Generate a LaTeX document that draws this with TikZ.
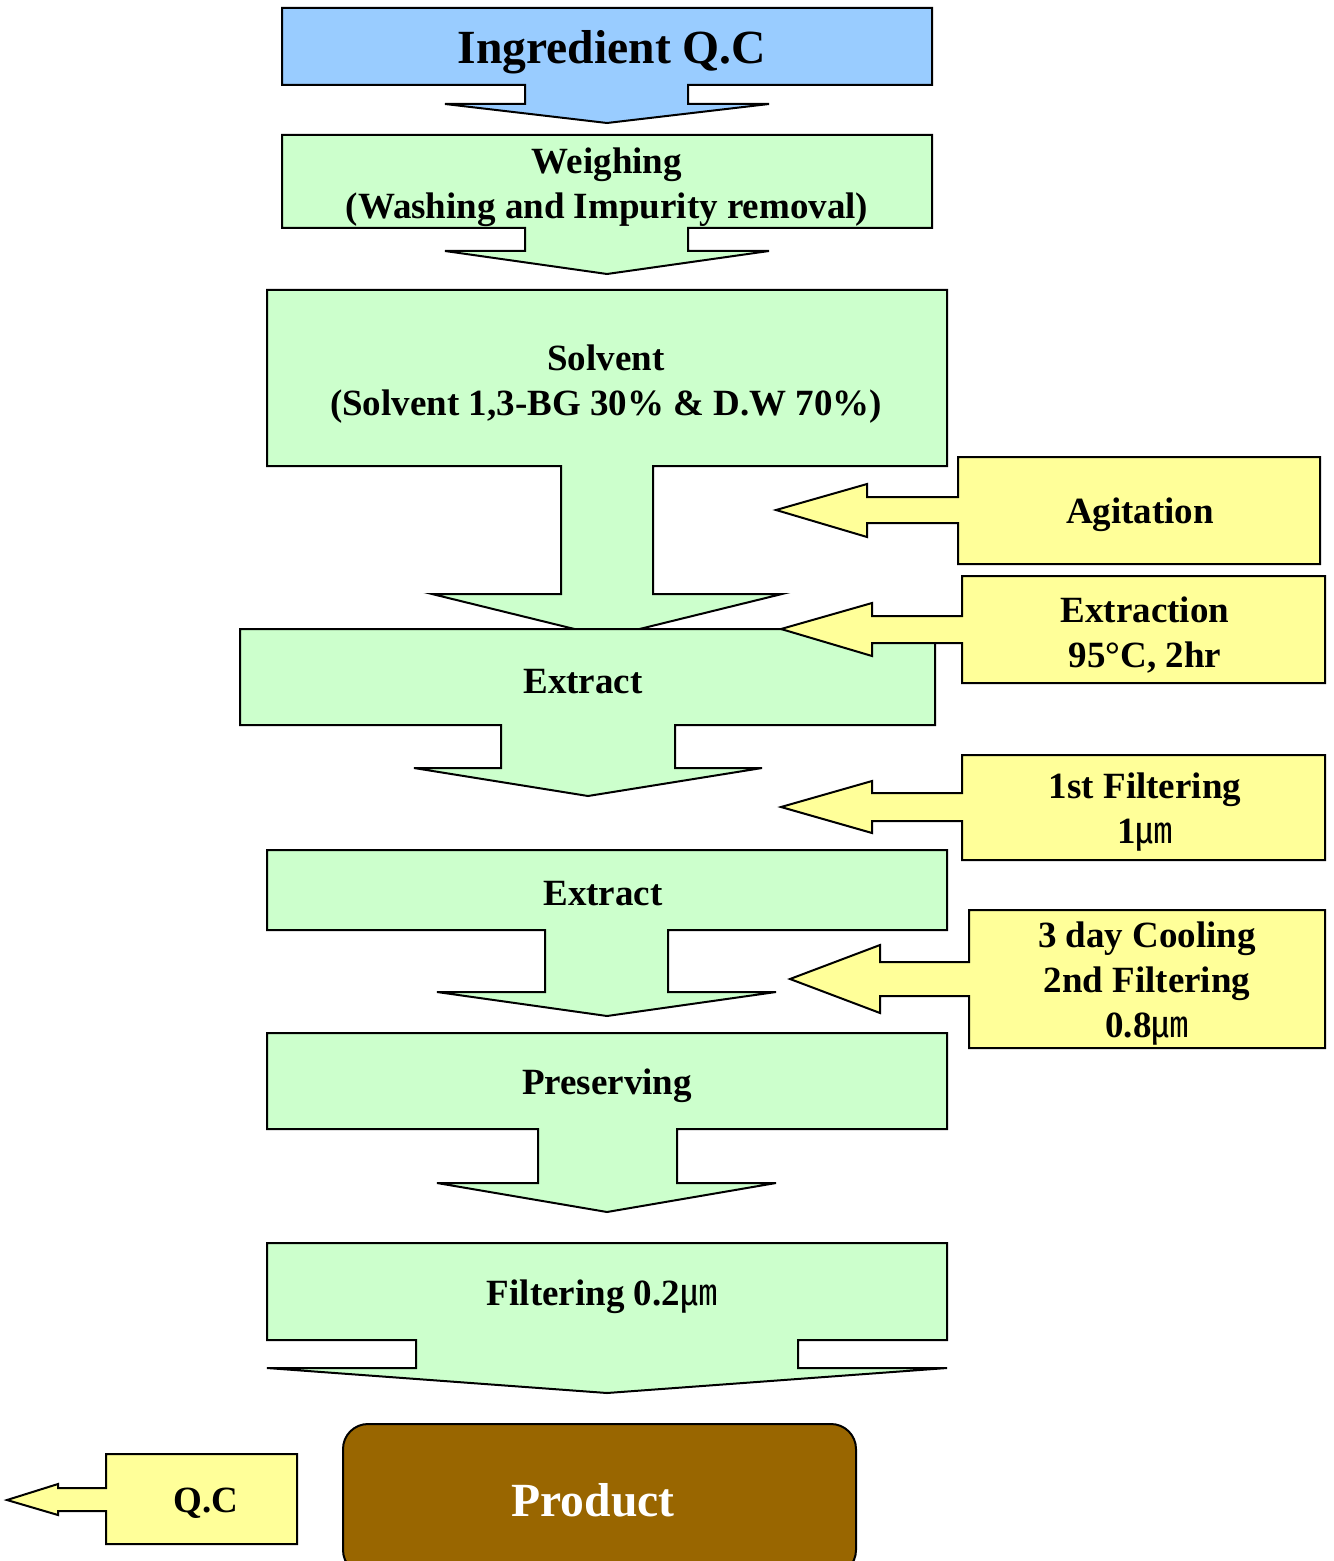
\documentclass[tikz,border=0pt]{standalone}
\usepackage{fontspec}
\setmainfont{Liberation Serif}
\newfontfamily\cjkfont{Noto Sans CJK KR}
\newcommand{\umicro}{{\cjkfont\mdseries ㎛}}
\definecolor{qcblue}{HTML}{99CCFF}
\definecolor{stepgreen}{HTML}{CCFFCC}
\definecolor{noteyellow}{HTML}{FFFF99}
\definecolor{prodbrown}{HTML}{996600}
\tikzset{
  shapeline/.style={draw=black, line width=1pt, line join=miter},
  blueshape/.style={shapeline, fill=qcblue},
  greenshape/.style={shapeline, fill=stepgreen},
  yellowshape/.style={shapeline, fill=noteyellow},
  brownshape/.style={shapeline, fill=prodbrown, rounded corners=12.5pt},
  lbl/.style={font=\bfseries\fontsize{18.5}{22.5}\selectfont, align=center, inner sep=0pt},
  biglbl/.style={font=\bfseries\fontsize{23.8}{28}\selectfont, align=center, inner sep=0pt}
}
\begin{document}
\begin{tikzpicture}[x=0.5pt,y=-0.5pt]
\useasboundingbox (0,0) rectangle (1333,1561);
% Ingredient Q.C
\path[blueshape] (282,8) -- (932,8) -- (932,85) -- (688,85) -- (688,104) -- (769,104) -- (607,123) -- (445,104) -- (525,104) -- (525,85) -- (282,85) -- cycle;
\node[biglbl] (ingr) at (612,52) {Ingredient Q.C};
% Weighing
\path[greenshape] (282,135) -- (932,135) -- (932,228) -- (688,228) -- (688,251) -- (769,251) -- (607,274) -- (445,251) -- (525,251) -- (525,228) -- (282,228) -- cycle;
\node[lbl] (weigh) at (607,187) {Weighing\\(Washing and Impurity removal)};
% Solvent
\path[greenshape] (267,290) -- (947,290) -- (947,466) -- (653,466) -- (653,594) -- (782,594) -- (607,637) -- (432,594) -- (561,594) -- (561,466) -- (267,466) -- cycle;
\node[lbl] (solv) at (606,384) {Solvent\\(Solvent 1,3-BG 30\% \& D.W 70\%)};
% Agitation
\path[yellowshape] (958,457) -- (1320,457) -- (1320,564) -- (958,564) -- (958,523) -- (867,523) -- (867,537) -- (776,510) -- (867,484) -- (867,497) -- (958,497) -- cycle;
\node[lbl] (agit) at (1140,515) {Agitation};
% Extract 1
\path[greenshape] (240,629) -- (935,629) -- (935,725) -- (675,725) -- (675,768) -- (762,768) -- (588,796) -- (414,768) -- (501,768) -- (501,725) -- (240,725) -- cycle;
\node[lbl] (extr1) at (583,682) {Extract};
% Extraction
\path[yellowshape] (962,576) -- (1325,576) -- (1325,683) -- (962,683) -- (962,643) -- (872,643) -- (872,656) -- (781,629) -- (872,603) -- (872,616) -- (962,616) -- cycle;
\node[lbl] (extn) at (1145,635) {Extraction\\95°C, 2hr};
% 1st Filtering
\path[yellowshape] (962,755) -- (1325,755) -- (1325,860) -- (962,860) -- (962,821) -- (872,821) -- (872,833) -- (781,807) -- (872,781) -- (872,793) -- (962,793) -- cycle;
\node[lbl] (filt1) at (1145,812) {1st Filtering\\1\umicro};
% Extract 2
\path[greenshape] (267,850) -- (947,850) -- (947,930) -- (668,930) -- (668,992) -- (776,992) -- (607,1016) -- (437,992) -- (545,992) -- (545,930) -- (267,930) -- cycle;
\node[lbl] (extr2) at (603,894) {Extract};
% 3 day cooling
\path[yellowshape] (969,910) -- (1325,910) -- (1325,1048) -- (969,1048) -- (969,996) -- (880,996) -- (880,1013) -- (790,979) -- (880,945) -- (880,962) -- (969,962) -- cycle;
\node[lbl] (cool) at (1147,984) {3 day Cooling\\2nd Filtering\\0.8\umicro};
% Preserving
\path[greenshape] (267,1033) -- (947,1033) -- (947,1129) -- (677,1129) -- (677,1183) -- (776,1183) -- (607,1212) -- (437,1183) -- (538,1183) -- (538,1129) -- (267,1129) -- cycle;
\node[lbl] (pres) at (607,1086) {Preserving};
% Filtering 0.2
\path[greenshape] (267,1243) -- (947,1243) -- (947,1340) -- (798,1340) -- (798,1368) -- (947,1368) -- (607,1393) -- (267,1368) -- (416,1368) -- (416,1340) -- (267,1340) -- cycle;
\node[lbl] (filt3) at (602,1297) {Filtering 0.2\umicro};
% Q.C
\path[yellowshape] (106,1454) -- (297,1454) -- (297,1544) -- (106,1544) -- (106,1511) -- (58,1511) -- (58,1515) -- (7,1500) -- (58,1484) -- (58,1488) -- (106,1488) -- cycle;
\node[lbl] (qc) at (206,1503) {Q.C};
% Product
\path[brownshape] (343,1424) rectangle (856,1575);
\node[biglbl, text=white] (prod) at (593,1500) {Product};
\end{tikzpicture}
\end{document}
